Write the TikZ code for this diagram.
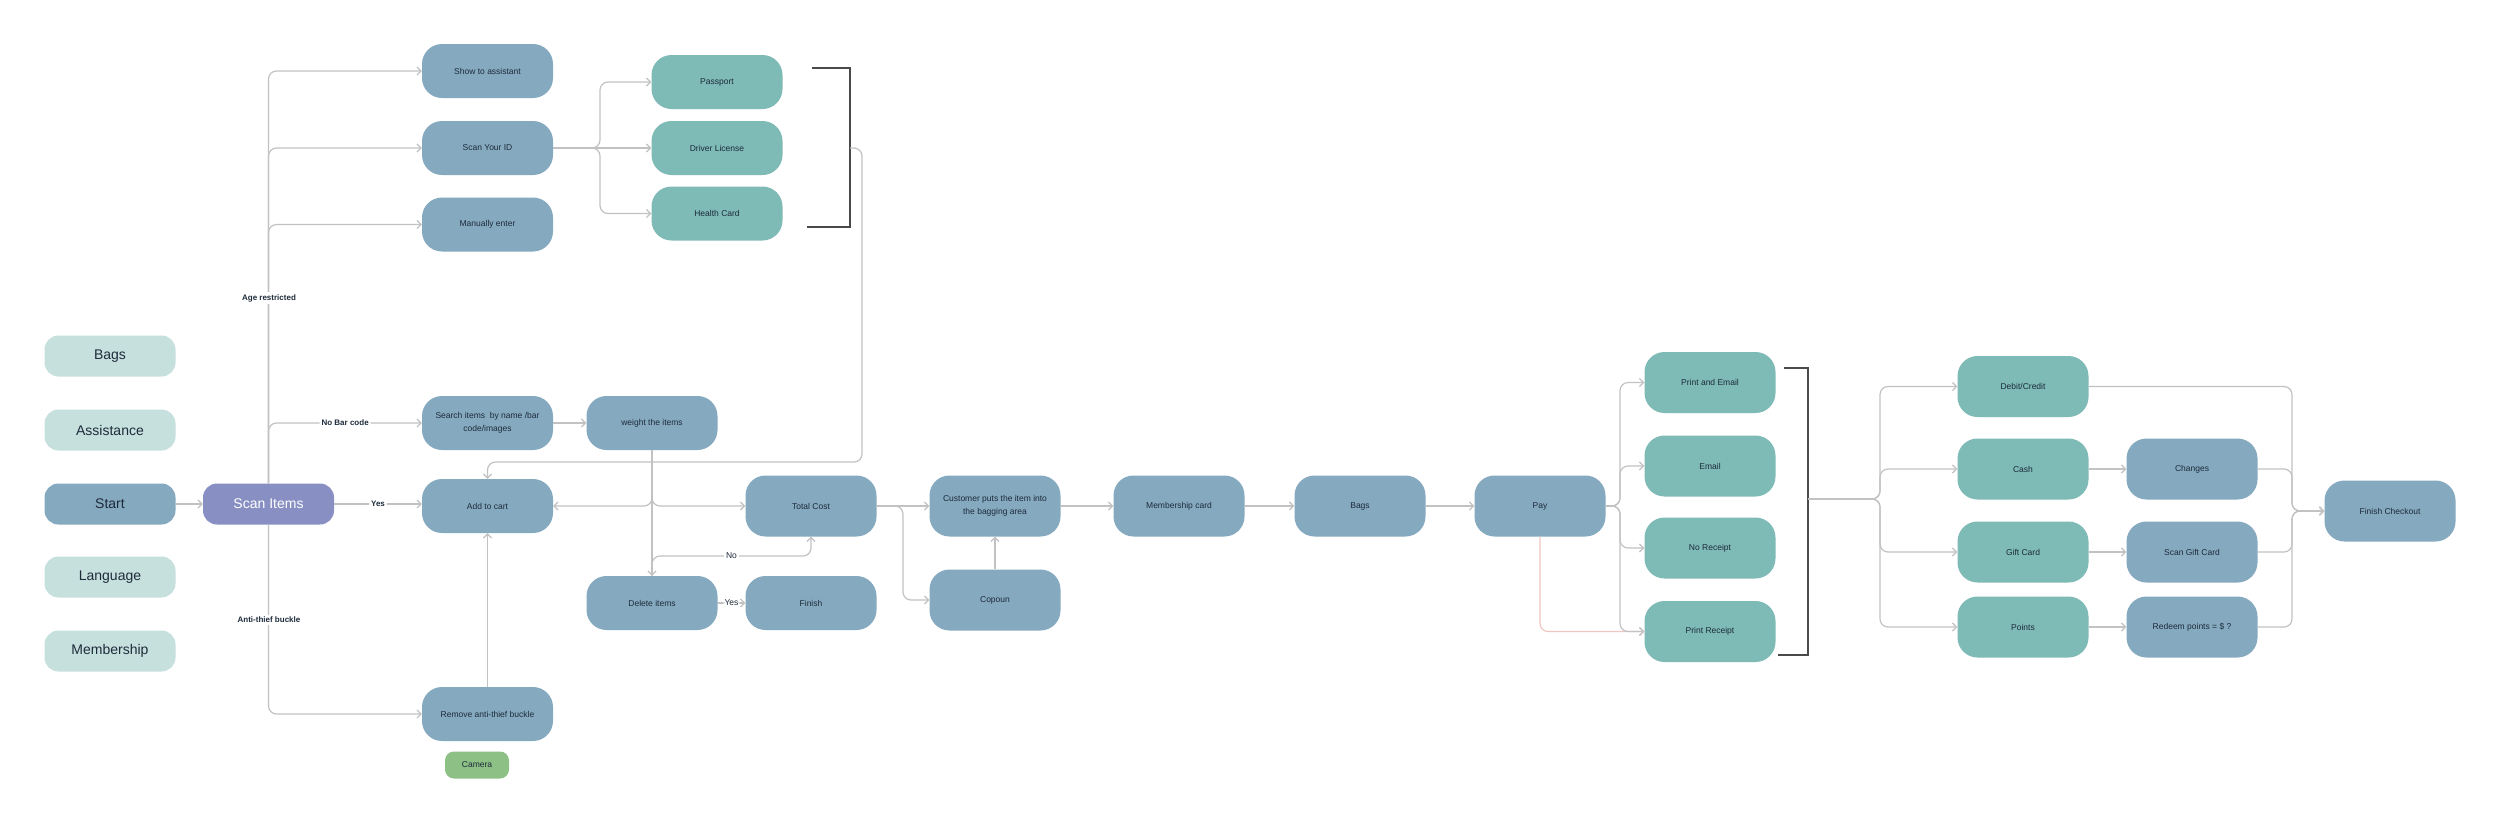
\documentclass[tikz,border=0pt]{standalone}
\usepackage{fontspec}
\setmainfont{Liberation Sans}
\usetikzlibrary{arrows.meta}
\definecolor{nblue}{HTML}{85A9BF}
\definecolor{nteal}{HTML}{7EBAB6}
\definecolor{nlight}{HTML}{C6E0DE}
\definecolor{npurple}{HTML}{8890C3}
\definecolor{ngreen}{HTML}{8CC084}
\definecolor{ntext}{HTML}{1D2B3A}
\definecolor{lgray}{HTML}{C2C2C2}
\definecolor{pinkl}{HTML}{F0C6C2}
\definecolor{brkc}{HTML}{4A4A4A}
\begin{document}
\begin{tikzpicture}[x=1pt,y=-1pt,
 nbox/.style={rounded corners=20pt, minimum width=131pt, minimum height=54pt, inner sep=0pt, align=center, text=ntext, font=\fontsize{8.5}{13}\selectfont},
 bl/.style={nbox, fill=nblue},
 tl/.style={nbox, fill=nteal},
 tall/.style={minimum height=61pt},
 leg/.style={rounded corners=14pt, minimum width=131pt, minimum height=41pt, inner sep=0pt, fill=nlight, text=ntext, font=\fontsize{14}{16}\selectfont},
 conn/.style={draw=lgray, line width=1.2pt, rounded corners=8pt, -{Straight Barb[length=4pt,width=8pt]}},
 pconn/.style={conn, draw=pinkl},
 lab/.style={fill=white, inner sep=2pt, text=ntext, font=\bfseries\fontsize{8}{10}\selectfont},
 labr/.style={fill=white, inner sep=2pt, text=ntext, font=\fontsize{8.5}{10}\selectfont},
 brkline/.style={draw=brkc, line width=1.5pt}
]
\fill[white] (0,0) rectangle (2500,823);
\useasboundingbox (0,0) rectangle (2500,823);

% legend
\node[leg] (lbags) at (110,356) {Bags};
\node[leg] (lassist) at (110,430) {Assistance};
\node[leg, fill=nblue] (start) at (110,504) {Start};
\node[leg] (llang) at (110,577) {Language};
\node[leg] (lmember) at (110,651) {Membership};
\node[leg, fill=npurple, text=white] (scan) at (268.5,504) {Scan Items};

% column 1
\node[bl] (show) at (487.5,71) {Show to assistant};
\node[bl] (scanid) at (487.5,148) {Scan Your ID};
\node[bl] (manual) at (487.5,224.5) {Manually enter};
\node[bl] (search) at (487.5,423) {Search items\ \ by name /bar\\code/images};
\node[bl] (add) at (487.5,506) {Add to cart};
\node[bl] (remove) at (487.5,714) {Remove anti-thief buckle};
\node[rounded corners=9pt, minimum width=64pt, minimum height=27pt, inner sep=0pt, fill=ngreen, text=ntext, font=\fontsize{8.5}{10}\selectfont] (camera) at (477,765) {Camera};

% ID types
\node[tl] (passport) at (717,82) {Passport};
\node[tl] (driver) at (717,148) {Driver License};
\node[tl] (health) at (717,213.5) {Health Card};

\node[bl] (weight) at (652,423) {weight the items};
\node[bl] (delete) at (652,603) {Delete items};
\node[bl, tall] (total) at (811,506) {Total Cost};
\node[bl] (finish) at (811,603) {Finish};
\node[bl, tall] (customer) at (995,506) {Customer puts the item into\\the bagging area};
\node[bl, tall] (copoun) at (995,600) {Copoun};
\node[bl, tall] (mcard) at (1179,506) {Membership card};
\node[bl, tall] (bags) at (1360,506) {Bags};
\node[bl, tall] (pay) at (1540,506) {Pay};

% receipts
\node[tl, tall] (pe) at (1710,382.5) {Print and Email};
\node[tl, tall] (email) at (1710,466) {Email};
\node[tl, tall] (norec) at (1710,548) {No Receipt};
\node[tl, tall] (prec) at (1710,631.5) {Print Receipt};

% payment
\node[tl, tall] (debit) at (2023,386.5) {Debit/Credit};
\node[tl, tall] (cash) at (2023,469) {Cash};
\node[tl, tall] (gift) at (2023,552) {Gift Card};
\node[tl, tall] (points) at (2023,627) {Points};
\node[bl, tall] (changes) at (2192,469) {Changes};
\node[bl, tall] (sgift) at (2192,552) {Scan Gift Card};
\node[bl, tall] (redeem) at (2192,627) {Redeem points = \$ ?};
\node[bl, tall] (fc) at (2390,511) {Finish Checkout};

% coordinates
\coordinate (sj) at (600,148);
\coordinate (b1a) at (812,68);
\coordinate (b1b) at (850,68);
\coordinate (b1c) at (850,227);
\coordinate (b1d) at (807,227);
\coordinate (brA) at (850,148);
\coordinate (rc) at (862,462);
\coordinate (nj) at (652,556);
\coordinate (tj) at (903,506);
\coordinate (pyj) at (1620,506);
\coordinate (b2a) at (1784,368);
\coordinate (b2b) at (1808,368);
\coordinate (b2c) at (1808,655);
\coordinate (b2d) at (1778,655);
\coordinate (brB) at (1808,499);
\coordinate (pj) at (1880,499);
\coordinate (mj) at (2292,511);

% connectors
\draw[conn] (start) -- (scan);
\draw[conn] (scan.north) |- (show.west);
\draw[conn] (scan.north) |- (scanid.west);
\draw[conn] (scan.north) |- (manual.west);
\draw[conn] (scan.north) |- node[pos=0.75, lab] {No Bar code} (search.west);
\draw[conn] (scan.south) |- (remove.west);
\draw[conn] (scan.east) -- node[lab] {Yes} (scan.east -| add.west);
\node[lab] (lage) at (269,298) {Age restricted};
\node[lab] (lanti) at (269,620) {Anti-thief buckle};

\draw[conn] (scanid.east) -- (sj) |- (passport.west);
\draw[conn] (scanid.east) -- (driver.west);
\draw[conn] (scanid.east) -- (sj) |- (health.west);

\draw[brkline] (b1a) -- (b1b) -- (b1c) -- (b1d);
\draw[conn] (brA) -| (rc) -| (add.north);

\draw[conn] (search.east) -- (weight.west);
\draw[conn] (weight.south) |- (add.east);
\draw[conn] (weight.south) |- (total.west);
\draw[conn] (weight.south) -- (delete.north);
\draw[conn] (delete.north) -- (nj) -| node[pos=0.25, labr] {No} (total.south);
\draw[conn] (delete.east) -- node[labr, inner sep=1pt] {Yes} (finish.west);
\draw[conn] (remove.north) -- (add.south);

\draw[conn] (total.east) -- (customer.west);
\draw[conn] (total.east) -- (tj) |- (copoun.west);
\draw[conn] (copoun.north) -- (customer.south);
\draw[conn] (customer.east) -- (mcard.west);
\draw[conn] (mcard.east) -- (bags.west);
\draw[conn] (bags.east) -- (pay.west);

\draw[pconn] (pay.south) |- (prec.west);
\draw[conn] (pay.east) -- (pyj) |- (pe.west);
\draw[conn] (pay.east) -- (pyj) |- (email.west);
\draw[conn] (pay.east) -- (pyj) |- (norec.west);
\draw[conn] (pay.east) -- (pyj) |- (prec.west);

\draw[brkline] (b2a) -- (b2b) -- (b2c) -- (b2d);
\draw[conn] (brB) -- (pj) |- (debit.west);
\draw[conn] (brB) -- (pj) |- (cash.west);
\draw[conn] (brB) -- (pj) |- (gift.west);
\draw[conn] (brB) -- (pj) |- (points.west);

\draw[conn] (cash.east) -- (changes.west);
\draw[conn] (gift.east) -- (sgift.west);
\draw[conn] (points.east) -- (redeem.west);

\draw[conn] (debit.east) -| (mj) -- (fc.west);
\draw[conn] (changes.east) -| (mj) -- (fc.west);
\draw[conn] (sgift.east) -| (mj) -- (fc.west);
\draw[conn] (redeem.east) -| (mj) -- (fc.west);
\end{tikzpicture}
\end{document}
